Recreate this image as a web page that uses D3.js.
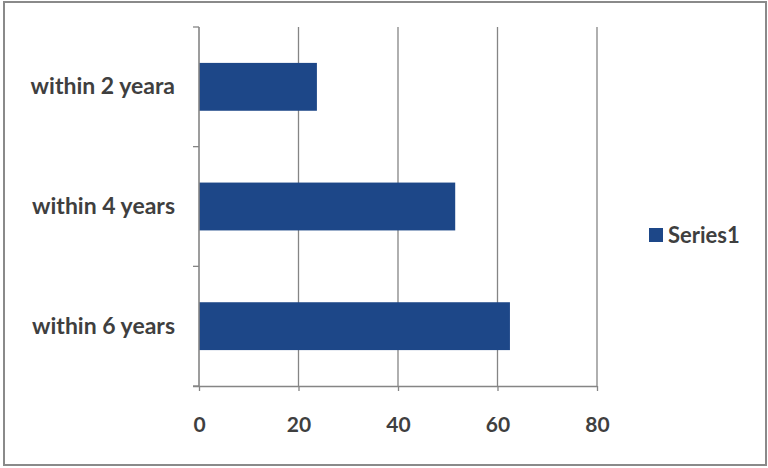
<!DOCTYPE html>
<html>
<head>
<meta charset="utf-8">
<script src="https://cdn.jsdelivr.net/npm/d3@7/dist/d3.min.js"></script>
<style>
  html, body { margin: 0; padding: 0; background: #fff; }
  svg { display: block; }
  text { font-family: Lato, "Open Sans", sans-serif; fill: #3f3f3f; font-weight: 700; }
</style>
</head>
<body>
<svg id="chart" width="768" height="468"></svg>
<script>
// Categories top to bottom and their values
const categories = ["within 2 yeara", "within 4 years", "within 6 years"];
const values = [23.7, 51.5, 62.5];
const xTicks = [0, 20, 40, 60, 80];
const seriesName = "Series1";

const plot = { left: 199, right: 597, top: 27, bottom: 386 };
const barColor = "#1d4788";
const lineColor = "#858585";

const svg = d3.select("#chart");

// outer frame
svg.append("rect")
  .attr("x", 4).attr("y", 2)
  .attr("width", 762).attr("height", 463)
  .attr("fill", "#fff")
  .attr("stroke", "#8a8a8a")
  .attr("stroke-width", 2);

const x = d3.scaleLinear().domain([0, 80]).range([plot.left, plot.right]);
const y = d3.scaleBand().domain(categories).range([plot.top, plot.bottom]).paddingInner(0.6).paddingOuter(0.3);

// vertical gridlines
svg.append("g")
  .selectAll("line")
  .data(xTicks.filter(d => d > 0))
  .join("line")
  .attr("x1", d => x(d)).attr("x2", d => x(d))
  .attr("y1", plot.top).attr("y2", plot.bottom)
  .attr("stroke", lineColor).attr("stroke-width", 1.3);

// bars
svg.append("g")
  .selectAll("rect")
  .data(categories.map((c, i) => ({ c, v: values[i] })))
  .join("rect")
  .attr("x", x(0))
  .attr("y", d => y(d.c))
  .attr("width", d => x(d.v) - x(0))
  .attr("height", y.bandwidth())
  .attr("fill", barColor);

// x axis
const xAxis = svg.append("g")
  .attr("transform", `translate(0,${plot.bottom})`)
  .call(d3.axisBottom(x).tickValues(xTicks).tickSize(5).tickPadding(26).tickFormat(d3.format("d")));
xAxis.select(".domain").attr("stroke", lineColor).attr("stroke-width", 1.6)
  .attr("d", `M${plot.left - 6},0.5H${plot.right}`);
xAxis.selectAll(".tick line").attr("stroke", lineColor).attr("stroke-width", 1.3);
xAxis.selectAll(".tick text").attr("font-size", 21).attr("fill", "#3f3f3f")
  .style("font-family", "Lato, 'Open Sans', sans-serif").style("font-weight", 700);

// y axis with ticks at band boundaries
const boundaries = d3.range(categories.length + 1).map(i => plot.top + i * (plot.bottom - plot.top) / categories.length);
const yAxis = svg.append("g");
yAxis.append("line")
  .attr("x1", plot.left).attr("x2", plot.left)
  .attr("y1", plot.top).attr("y2", plot.bottom)
  .attr("stroke", lineColor).attr("stroke-width", 1.6);
yAxis.selectAll("line.tk")
  .data(boundaries)
  .join("line").attr("class", "tk")
  .attr("x1", plot.left - 6).attr("x2", plot.left)
  .attr("y1", d => d).attr("y2", d => d)
  .attr("stroke", lineColor).attr("stroke-width", 1.3);
yAxis.selectAll("text")
  .data(categories)
  .join("text")
  .attr("x", 175)
  .attr("y", d => y(d) + y.bandwidth() / 2)
  .attr("dy", "0.33em")
  .attr("text-anchor", "end")
  .attr("font-size", 23)
  .text(d => d);

// legend
const lg = svg.append("g").attr("transform", "translate(649,228)");
lg.append("rect").attr("width", 14).attr("height", 14).attr("fill", barColor);
lg.append("text").attr("x", 19).attr("y", 7).attr("dy", "0.35em").attr("font-size", 22).text(seriesName);
</script>
</body>
</html>
